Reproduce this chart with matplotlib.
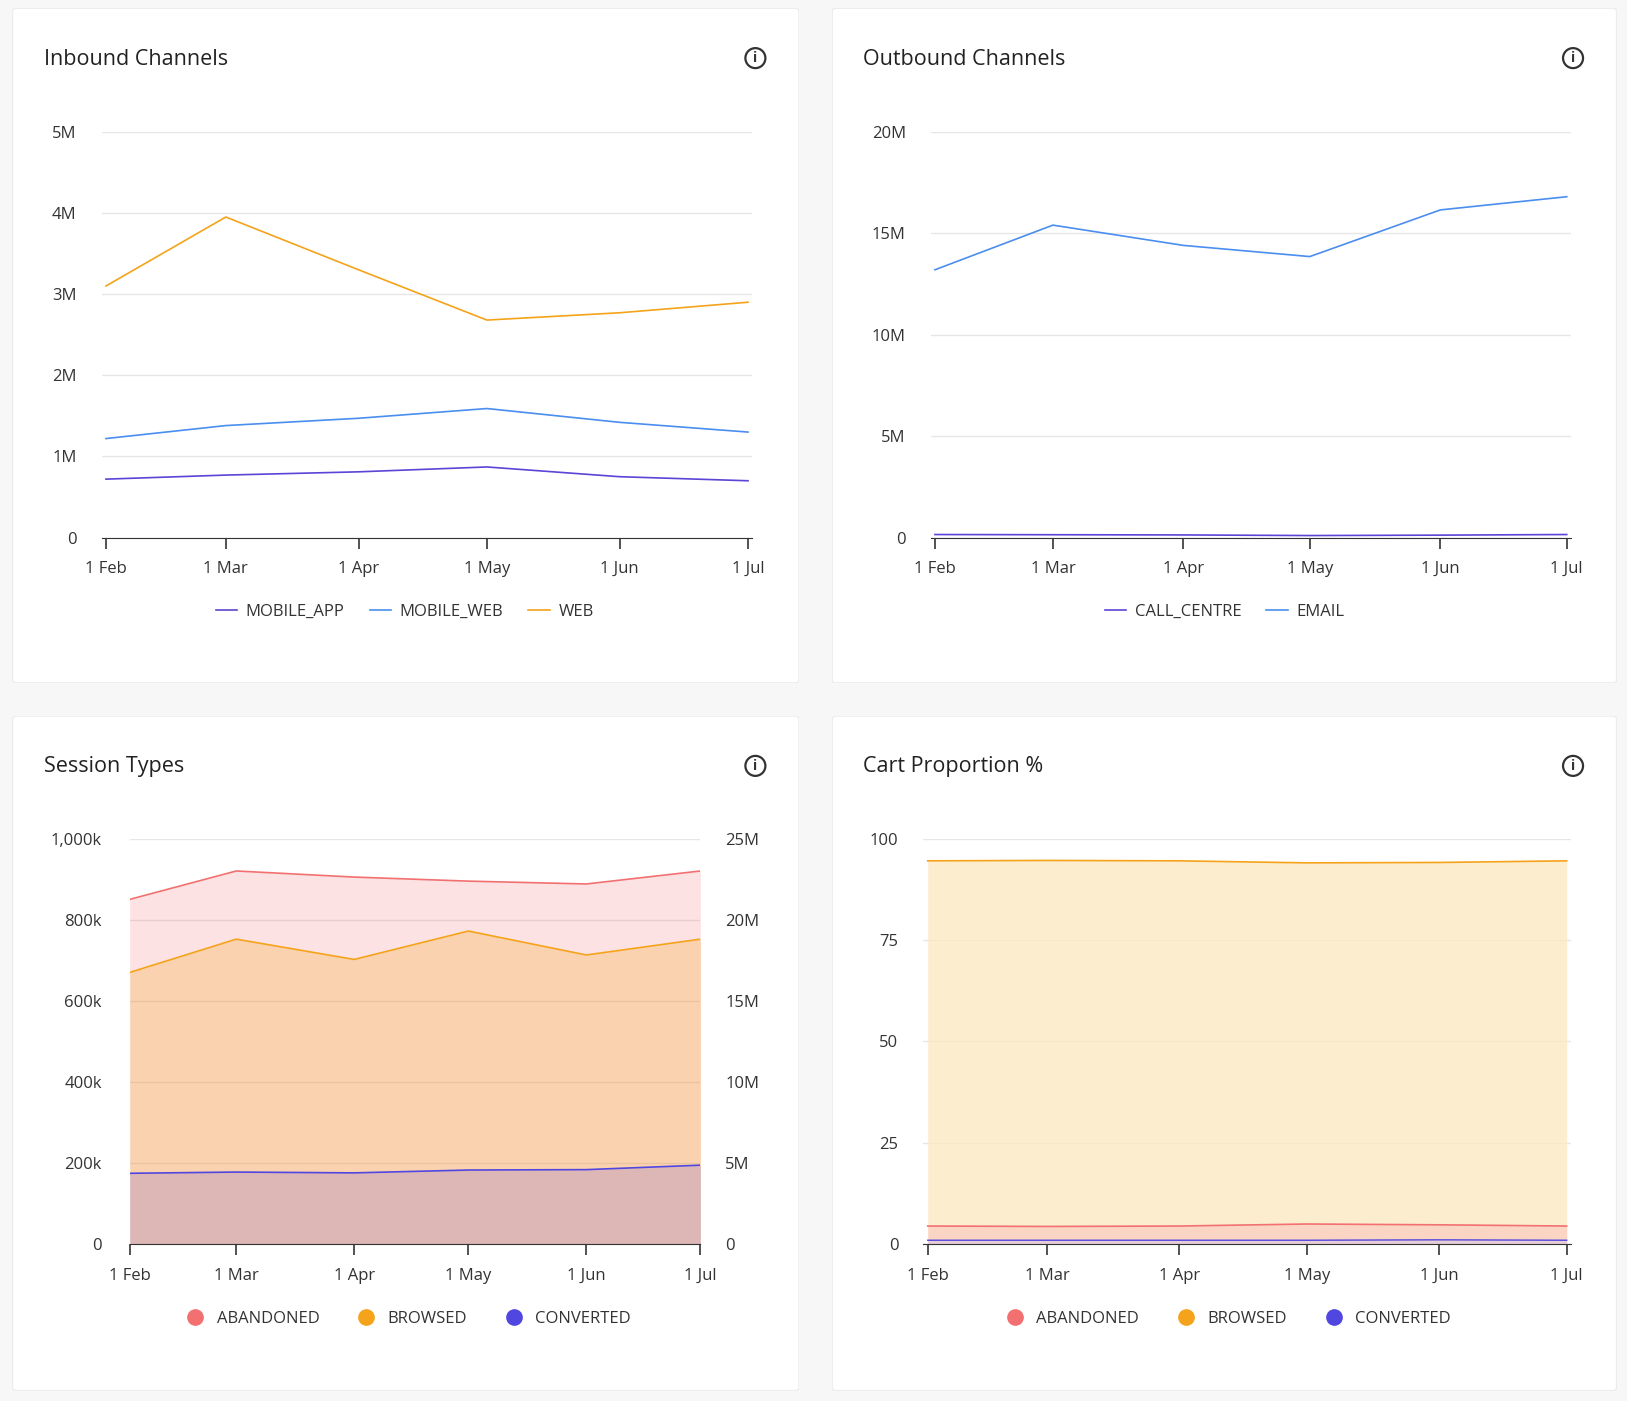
import matplotlib
matplotlib.use("Agg")
import matplotlib.pyplot as plt
from matplotlib.patches import FancyBboxPatch, Circle
from matplotlib.lines import Line2D
import datetime as dt

plt.rcParams['font.family'] = ['Open Sans', 'DejaVu Sans']

dates = [dt.date(2023, m, 1) for m in range(2, 8)]
date_labels = ["1 Feb", "1 Mar", "1 Apr", "1 May", "1 Jun", "1 Jul"]

mobile_app = [0.72e6, 0.77e6, 0.81e6, 0.87e6, 0.75e6, 0.70e6]
mobile_web = [1.22e6, 1.38e6, 1.47e6, 1.59e6, 1.42e6, 1.30e6]
web = [3.10e6, 3.95e6, 3.30e6, 2.68e6, 2.77e6, 2.90e6]

call_centre = [0.15e6, 0.14e6, 0.13e6, 0.10e6, 0.12e6, 0.15e6]
email = [13.2e6, 15.4e6, 14.4e6, 13.85e6, 16.15e6, 16.8e6]

sess_abandoned = [850e3, 920e3, 905e3, 895e3, 888e3, 920e3]
sess_browsed = [670e3, 752e3, 702e3, 772e3, 713e3, 752e3]
sess_converted = [175e3, 178e3, 176e3, 183e3, 184e3, 195e3]

cart_browsed = [94.5, 94.6, 94.5, 94.0, 94.1, 94.5]
cart_abandoned = [4.5, 4.4, 4.5, 5.0, 4.8, 4.5]
cart_converted = [1.0, 1.0, 1.0, 1.0, 1.1, 1.0]

C_PURPLE = "#5a45d6"
C_BLUE = "#4a8ef0"
C_ORANGE = "#f5a31a"
C_RED = "#f27070"
C_CONV = "#5046e0"

W, H = 1568, 1350
fig = plt.figure(figsize=(16.27, 14.01), dpi=100)
fig.patch.set_facecolor("#f7f7f7")

def rect(x0, y0, x1, y1):
    return [x0 / W, 1 - y1 / H, (x1 - x0) / W, (y1 - y0) / H]

def card(x0, y0, x1, y1, title):
    bg = fig.add_axes(rect(x0, y0, x1, y1))
    bg.set_xlim(0, 1); bg.set_ylim(0, 1); bg.axis("off")
    bg.add_patch(FancyBboxPatch((0, 0), 1, 1, boxstyle="round,pad=0,rounding_size=0.005",
                                fc="white", ec="#ececec", lw=1, transform=bg.transAxes))
    fig.text((x0 + 30) / W, 1 - (y0 + 49) / H, title, fontsize=15.5, color="#222222", va="center")
    cx, cy = (x1 - 42) / W, 1 - (y0 + 48) / H
    fig.text(cx, cy, "i", fontsize=10, fontweight="bold", ha="center", va="center", color="#333")
    fig.patches.append(Circle((cx * fig.bbox.width, cy * fig.bbox.height), 10, fill=False,
                              ec="#333", lw=1.6, transform=None))

def style(ax, ylim, yticks, ylabels, pad_days=1.4):
    ax.set_ylim(*ylim)
    ax.set_yticks(yticks)
    ax.set_yticklabels(ylabels)
    ax.set_xlim(dates[0] - dt.timedelta(days=pad_days), dates[-1] + dt.timedelta(days=pad_days))
    ax.set_xticks(dates)
    ax.set_xticklabels(date_labels)
    for s in ["top", "right", "left"]:
        ax.spines[s].set_visible(False)
    ax.spines["bottom"].set_color("#333")
    ax.tick_params(axis="y", length=0, labelsize=12, colors="#333", pad=18)
    ax.tick_params(axis="x", length=8, width=1.2, color="#333", labelsize=12, labelcolor="#333", pad=9)
    ax.grid(axis="y", color="#e6e6e6", lw=1)
    ax.set_axisbelow(True)
    ax.set_facecolor("none")

def line_legend(items, ypix, xcenter):
    handles = [Line2D([], [], color=c, lw=1.2) for _, c in items]
    fig.legend(handles, [n for n, _ in items], loc="center", bbox_to_anchor=(xcenter / W, 1 - ypix / H),
               ncol=len(items), frameon=False, fontsize=12, handlelength=1.3, handletextpad=0.5,
               columnspacing=1.5, labelcolor="#333")

def dot_legend(items, ypix, xcenter):
    handles = [Line2D([], [], color=c, marker="o", ls="", ms=11) for _, c in items]
    fig.legend(handles, [n for n, _ in items], loc="center", bbox_to_anchor=(xcenter / W, 1 - ypix / H),
               ncol=len(items), frameon=False, fontsize=12, handletextpad=0.3,
               columnspacing=1.8, labelcolor="#333")

card(12, 8, 770, 658, "Inbound Channels")
card(802, 8, 1558, 658, "Outbound Channels")
card(12, 690, 770, 1340, "Session Types")
card(802, 690, 1558, 1340, "Cart Proportion %")

ax1 = fig.add_axes(rect(98, 127, 725, 518))
ax1.plot(dates, mobile_app, color=C_PURPLE, lw=1.2)
ax1.plot(dates, mobile_web, color=C_BLUE, lw=1.2)
ax1.plot(dates, web, color=C_ORANGE, lw=1.2)
style(ax1, (0, 5e6), [0, 1e6, 2e6, 3e6, 4e6, 5e6], ["0", "1M", "2M", "3M", "4M", "5M"])
line_legend([("MOBILE_APP", C_PURPLE), ("MOBILE_WEB", C_BLUE), ("WEB", C_ORANGE)], 590, 390)

ax2 = fig.add_axes(rect(897, 127, 1514, 518))
ax2.plot(dates, call_centre, color=C_PURPLE, lw=1.2)
ax2.plot(dates, email, color=C_BLUE, lw=1.2)
style(ax2, (0, 20e6), [0, 5e6, 10e6, 15e6, 20e6], ["0", "5M", "10M", "15M", "20M"])
line_legend([("CALL_CENTRE", C_PURPLE), ("EMAIL", C_BLUE)], 590, 1180)

ax3 = fig.add_axes(rect(125, 808, 675, 1199))
ax3.fill_between(dates, sess_abandoned, color=C_RED, alpha=0.2, lw=0)
ax3.plot(dates, sess_abandoned, color=C_RED, lw=1.2)
ax3.fill_between(dates, sess_browsed, color=C_ORANGE, alpha=0.25, lw=0)
ax3.plot(dates, sess_browsed, color=C_ORANGE, lw=1.2)
ax3.fill_between(dates, sess_converted, color="#9a78c8", alpha=0.3, lw=0)
ax3.plot(dates, sess_converted, color=C_CONV, lw=1.2)
style(ax3, (0, 1000e3), [0, 200e3, 400e3, 600e3, 800e3, 1000e3],
      ["0", "200k", "400k", "600k", "800k", "1,000k"], pad_days=0.9)
ax3.tick_params(axis="y", pad=20)
ax3r = ax3.twinx()
ax3r.set_ylim(0, 25e6)
ax3r.set_yticks([0, 5e6, 10e6, 15e6, 20e6, 25e6])
ax3r.set_yticklabels(["0", "5M", "10M", "15M", "20M", "25M"])
for s in ["top", "right", "left", "bottom"]:
    ax3r.spines[s].set_visible(False)
ax3r.tick_params(axis="y", length=0, labelsize=12, colors="#333", pad=18)
dot_legend([("ABANDONED", C_RED), ("BROWSED", C_ORANGE), ("CONVERTED", C_CONV)], 1271, 390)

ax4 = fig.add_axes(rect(890, 808, 1514, 1199))
ax4.fill_between(dates, cart_browsed, color="#fde9c4", alpha=0.8, lw=0)
ax4.plot(dates, cart_browsed, color=C_ORANGE, lw=1.2)
ax4.fill_between(dates, cart_abandoned, color="#fbd0c0", alpha=0.8, lw=0)
ax4.plot(dates, cart_abandoned, color=C_RED, lw=1.2)
ax4.fill_between(dates, cart_converted, color="#d8c8e8", alpha=0.6, lw=0)
ax4.plot(dates, cart_converted, color=C_CONV, lw=1.0)
style(ax4, (0, 100), [0, 25, 50, 75, 100], ["0", "25", "50", "75", "100"])
dot_legend([("ABANDONED", C_RED), ("BROWSED", C_ORANGE), ("CONVERTED", C_CONV)], 1271, 1180)

fig.savefig("out.png", dpi=100, facecolor=fig.get_facecolor())
